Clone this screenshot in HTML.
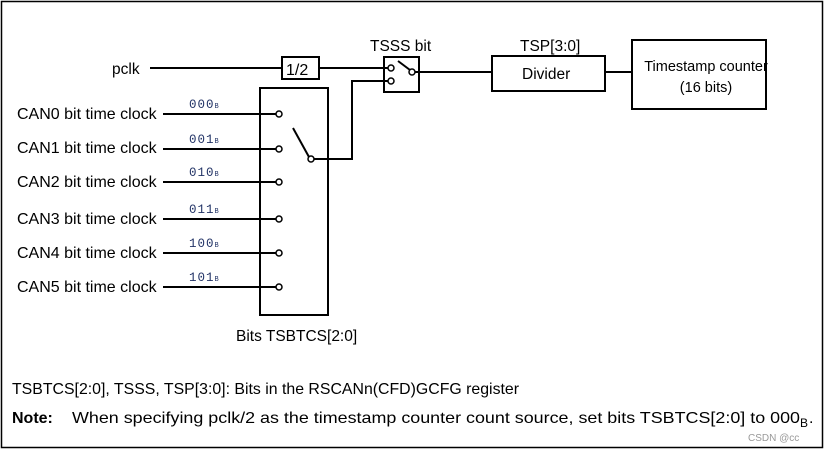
<!DOCTYPE html>
<html><head><style>body{margin:0;background:#fff}</style></head><body>
<svg width="825" height="451" xmlns="http://www.w3.org/2000/svg" font-family="Liberation Sans, sans-serif" font-size="14.5">
<rect x="1.5" y="1.5" width="821" height="446" fill="none" stroke="#000" stroke-width="1.5"/>
<g stroke="#000" stroke-width="2" fill="none">
<rect x="260" y="88" width="68" height="227"/>
<rect x="282" y="57" width="37" height="22"/>
<rect x="384" y="57" width="35" height="35"/>
<rect x="492" y="56" width="113" height="35"/>
<rect x="632" y="40" width="134" height="69"/>
<line x1="150" y1="68" x2="282" y2="68"/>
<line x1="319" y1="68" x2="388" y2="68"/>
<polyline points="314,159 352,159 352,81 388,81"/>
<line x1="415" y1="72" x2="492" y2="72"/>
<line x1="605" y1="72" x2="632" y2="72"/>
<line x1="293" y1="128" x2="309" y2="157"/>
<line x1="398" y1="61" x2="410" y2="70"/>
<line x1="163" y1="114" x2="276" y2="114"/>
<line x1="163" y1="149" x2="276" y2="149"/>
<line x1="163" y1="182" x2="276" y2="182"/>
<line x1="163" y1="219" x2="276" y2="219"/>
<line x1="163" y1="253" x2="276" y2="253"/>
<line x1="163" y1="287" x2="276" y2="287"/>
</g>
<g stroke="#000" stroke-width="1.5" fill="#fff">
<circle cx="279" cy="114" r="3"/><circle cx="279" cy="149" r="3"/><circle cx="279" cy="182" r="3"/>
<circle cx="279" cy="219" r="3"/><circle cx="279" cy="253" r="3"/><circle cx="279" cy="287" r="3"/>
<circle cx="311" cy="159" r="3"/><circle cx="391" cy="68" r="3"/><circle cx="391" cy="81" r="3"/><circle cx="412" cy="72" r="3"/>
</g>
<g fill="#000">
<text x="112" y="74" font-size="15.5">pclk</text>
<text x="286" y="75" font-size="16">1/2</text>
<text x="370" y="51" font-size="15.5">TSSS bit</text>
<text x="520" y="51" font-size="15.5">TSP[3:0]</text>
<text x="522" y="79" font-size="15.5">Divider</text>
<text x="706" y="71" text-anchor="middle" font-size="14.5">Timestamp counter</text>
<text x="706" y="92" text-anchor="middle" font-size="14.5">(16 bits)</text>
<g font-size="16">
<text x="17" y="119">CAN0 bit time clock</text>
<text x="17" y="153">CAN1 bit time clock</text>
<text x="17" y="187">CAN2 bit time clock</text>
<text x="17" y="224">CAN3 bit time clock</text>
<text x="17" y="258">CAN4 bit time clock</text>
<text x="17" y="292">CAN5 bit time clock</text>
<text x="236" y="341" font-size="15.5">Bits TSBTCS[2:0]</text>
<text x="12" y="394" textLength="507" lengthAdjust="spacingAndGlyphs">TSBTCS[2:0], TSSS, TSP[3:0]: Bits in the RSCANn(CFD)GCFG register</text>
<text x="12" y="423" font-weight="bold">Note:</text>
<text x="72" y="423" textLength="728" lengthAdjust="spacingAndGlyphs">When specifying pclk/2 as the timestamp counter count source, set bits TSBTCS[2:0] to 000</text>
<text x="800" y="427" font-size="12">B</text>
<text x="809" y="423">.</text>
</g>
<text x="748" y="441" font-size="10" fill="#999">CSDN @cc</text>
</g>
<g fill="#223366" font-family="Liberation Mono, monospace" font-size="12.5" letter-spacing="1">
<text x="189" y="108">000<tspan font-size="7">B</tspan></text>
<text x="189" y="143">001<tspan font-size="7">B</tspan></text>
<text x="189" y="176">010<tspan font-size="7">B</tspan></text>
<text x="189" y="213">011<tspan font-size="7">B</tspan></text>
<text x="189" y="247">100<tspan font-size="7">B</tspan></text>
<text x="189" y="281">101<tspan font-size="7">B</tspan></text>
</g>
</svg>
</body></html>
